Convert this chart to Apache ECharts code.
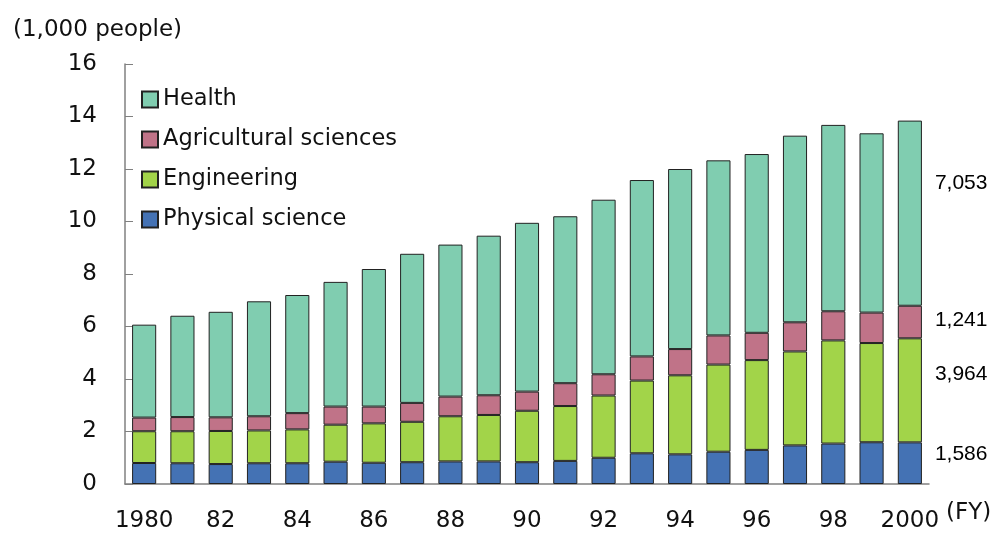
<!DOCTYPE html>
<html>
<head>
<meta charset="utf-8">
<script src="https://cdn.jsdelivr.net/npm/echarts@6/dist/echarts.min.js"></script>
<style>
  html, body { margin: 0; padding: 0; background: #fff; }
  #main { width: 1002px; height: 535px; }
</style>
</head>
<body>
<div id="main"></div>
<script>
// 年度（横轴标签）
var years = ['1980', '81', '82', '83', '84', '85', '86', '87', '88', '89', '90',
             '91', '92', '93', '94', '95', '96', '97', '98', '99', '2000'];

// 各领域人数（千人）
var physical = [0.80, 0.79, 0.76, 0.79, 0.79, 0.85, 0.81, 0.83, 0.86, 0.86, 0.83,
                0.88, 1.00, 1.17, 1.13, 1.23, 1.30, 1.47, 1.54, 1.59, 1.586];
var engineering = [1.21, 1.22, 1.26, 1.25, 1.29, 1.41, 1.50, 1.54, 1.72, 1.77, 1.96,
                   2.09, 2.37, 2.77, 3.01, 3.32, 3.42, 3.58, 3.93, 3.78, 3.964];
var agricultural = [0.52, 0.54, 0.52, 0.54, 0.62, 0.69, 0.64, 0.72, 0.75, 0.75, 0.73,
                    0.87, 0.81, 0.92, 1.00, 1.11, 1.04, 1.11, 1.11, 1.16, 1.241];
var health = [3.54, 3.86, 4.02, 4.38, 4.50, 4.75, 5.24, 5.68, 5.79, 6.08, 6.43,
              6.36, 6.65, 6.72, 6.86, 6.67, 6.81, 7.11, 7.10, 6.83, 7.053];

var yTicks = [0, 2, 4, 6, 8, 10, 12, 14, 16];

var mainFont = 'DejaVu Sans';

// 最后一年的数值标签
function lastLabel(arr, dy) {
    return arr.map(function (v, i) {
        if (i !== arr.length - 1) return v;
        return {
            value: v,
            label: {
                show: true,
                position: 'right',
                distance: 13,
                offset: [0, dy],
                fontFamily: 'Liberation Sans',
                fontSize: 21,
                color: '#000',
                formatter: function (p) {
                    return Math.round(p.value * 1000).toLocaleString('en-US');
                }
            }
        };
    });
}

function barSeries(name, data, color, dy) {
    return {
        name: name,
        type: 'bar',
        stack: 'total',
        barWidth: '63%',
        data: lastLabel(data, dy),
        itemStyle: {
            color: color,
            borderColor: '#222',
            borderWidth: 1
        }
    };
}

var myChart = echarts.init(document.getElementById('main'));

var option = {
    animation: false,
    title: {
        text: '(1,000 people)',
        left: 8,
        top: 14,
        textStyle: {
            fontFamily: mainFont,
            fontSize: 23,
            fontWeight: 'normal',
            color: '#111'
        }
    },
    legend: {
        data: ['Health', 'Agricultural sciences', 'Engineering', 'Physical science'],
        orient: 'vertical',
        left: 141,
        top: 88,
        padding: 0,
        itemWidth: 16,
        itemHeight: 16,
        itemGap: 17,
        icon: 'rect',
        textStyle: {
            fontFamily: mainFont,
            fontSize: 22.5,
            color: '#111'
        }
    },
    grid: {
        left: 125,
        right: 73,
        top: 64,
        bottom: 51
    },
    xAxis: {
        type: 'category',
        data: years,
        name: '(FY)',
        nameLocation: 'end',
        nameGap: 17,
        nameTextStyle: {
            fontFamily: mainFont,
            fontSize: 23,
            color: '#111',
            verticalAlign: 'top',
            padding: [18, 0, 0, 0]
        },
        axisLine: { lineStyle: { color: '#808080', width: 1.5 } },
        axisTick: { show: false },
        axisLabel: {
            interval: 1,
            margin: 26,
            fontFamily: mainFont,
            fontSize: 23,
            color: '#111'
        }
    },
    yAxis: {
        type: 'value',
        min: yTicks[0],
        max: yTicks[yTicks.length - 1],
        interval: 2,
        splitLine: { show: false },
        axisLine: { show: true, lineStyle: { color: '#808080', width: 1.5 } },
        axisTick: { show: true, inside: true, length: 8, lineStyle: { color: '#808080' } },
        axisLabel: {
            margin: 28,
            fontFamily: mainFont,
            fontSize: 23,
            color: '#111'
        }
    },
    series: [
        barSeries('Physical science', physical, '#4472B4', -9),
        barSeries('Engineering', engineering, '#A2D449', -16),
        barSeries('Agricultural sciences', agricultural, '#C07388', -2),
        barSeries('Health', health, '#80CDB0', -30)
    ]
};

myChart.setOption(option);
</script>
</body>
</html>
